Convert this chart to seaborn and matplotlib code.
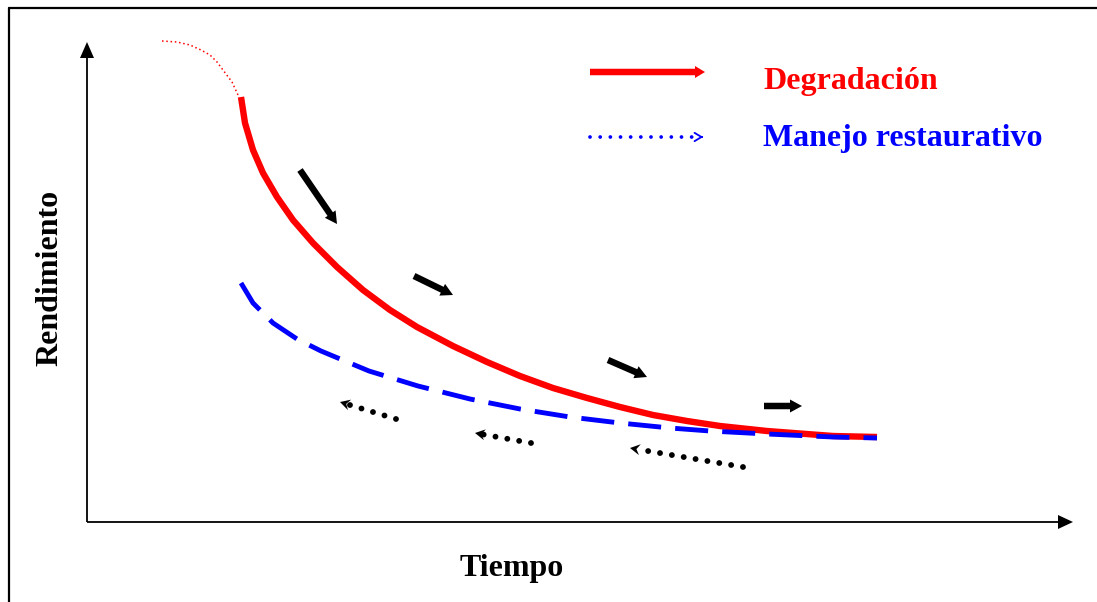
import numpy as np
import pandas as pd
import matplotlib.pyplot as plt
import seaborn as sns

# --- data (Tiempo / Rendimiento, arbitrary units) ---
degr_t = [1.54, 1.58, 1.66, 1.76, 1.90, 2.06, 2.26, 2.50, 2.76, 3.03, 3.30, 3.66,
          4.00, 4.33, 4.66, 5.00, 5.33, 5.66, 6.00, 6.33, 6.80, 7.46, 7.90]
degr_r = [4.25, 3.99, 3.72, 3.49, 3.25, 3.02, 2.79, 2.55, 2.32, 2.12, 1.95, 1.76,
          1.60, 1.46, 1.34, 1.24, 1.15, 1.07, 1.01, 0.96, 0.91, 0.86, 0.85]

# faint dotted lead-in before the degradation curve
lead_t = [0.75, 0.90, 1.03, 1.14, 1.23, 1.30, 1.36, 1.45, 1.51]
lead_r = [4.81, 4.80, 4.77, 4.72, 4.67, 4.60, 4.52, 4.40, 4.27]

rest_t = [1.54, 1.66, 1.86, 2.10, 2.34, 2.82, 3.31, 3.83, 4.33, 4.83, 5.33, 5.83,
          6.23, 6.80, 7.46, 7.90]
rest_r = [2.39, 2.19, 1.99, 1.83, 1.71, 1.51, 1.36, 1.23, 1.13, 1.05, 0.99, 0.94,
          0.91, 0.88, 0.85, 0.84]

# black arrows: (t_start, r_start, t_end, r_end)
down_arrows = [(2.13, 3.52, 2.50, 2.98),
               (3.27, 2.46, 3.66, 2.27),
               (5.21, 1.62, 5.60, 1.45),
               (6.77, 1.16, 7.15, 1.16)]
back_arrows = [(3.09, 1.03, 2.53, 1.20),
               (4.44, 0.79, 3.88, 0.89),
               (6.56, 0.55, 5.43, 0.74)]

legend_labels = ["Degradación", "Manejo restaurativo"]
legend_colors = ["#ff0000", "#0000ff"]
x_label = "Tiempo"
y_label = "Rendimiento"

sns.set_theme(style="white")
plt.rcParams["font.family"] = ["Liberation Serif", "DejaVu Serif"]

fig = plt.figure(figsize=(10.97, 6.02), dpi=100)
ax = fig.add_axes([0, 0, 1, 1])
ax.set_xlim(-0.87, 10.10)
ax.set_ylim(-0.80, 5.22)
ax.axis("off")

# outer frame (open at right/bottom, like the cropped original)
ax.plot([-0.78, -0.78], [-1.0, 5.14], color="black", lw=1.6)
ax.plot([-0.78, 11.0], [5.14, 5.14], color="black", lw=1.6)

# axes with arrow heads
ax.arrow(0, 0, 9.86, 0, width=0.018, head_width=0.14, head_length=0.15,
         length_includes_head=True, color="black", lw=0)
ax.arrow(0, 0, 0, 4.80, width=0.018, head_width=0.14, head_length=0.16,
         length_includes_head=True, color="black", lw=0)

# curves
sns.lineplot(x=lead_t, y=lead_r, sort=False, estimator=None, ax=ax,
             color="#ff0000", lw=1.1, linestyle=(0, (1, 1.8)))
sns.lineplot(x=degr_t, y=degr_r, sort=False, estimator=None, ax=ax,
             color="#ff0000", lw=4.6, solid_capstyle="butt",
             solid_joinstyle="round")
rest = sns.lineplot(x=rest_t, y=rest_r, sort=False, estimator=None, ax=ax,
                    color="#0000ff", lw=3.5)
rest.lines[-1].set_dashes((6.8, 2.9))
rest.lines[-1].set_dash_capstyle("butt")
rest.lines[-1].set_dash_joinstyle("round")

# solid black arrows (degradation direction)
for t0, r0, t1, r1 in down_arrows:
    ax.arrow(t0, r0, t1 - t0, r1 - r0, width=0.065, head_width=0.13,
             head_length=0.12, length_includes_head=True, color="black", lw=0)

# dotted black arrows (restoration direction)
for t0, r0, t1, r1 in back_arrows:
    d = np.hypot(t1 - t0, r1 - r0)
    ux, uy = (t1 - t0) / d, (r1 - r0) / d
    bt, br = t1 - ux * 0.07, r1 - uy * 0.07
    dots = pd.DataFrame({"t": [t0, bt], "r": [r0, br]})
    sns.lineplot(data=dots, x="t", y="r", sort=False, estimator=None, ax=ax,
                 color="black", lw=4.2, linestyle=(0, (0.01, 2.05)),
                 dash_capstyle="round")
    ax.arrow(t1 - ux * 0.1, r1 - uy * 0.1, ux * 0.1, uy * 0.1, width=0,
             head_width=0.11, head_length=0.10, overhang=0.35,
             length_includes_head=True, color="black", lw=0)

# legend drawn by hand
ax.arrow(5.03, 4.50, 1.15, 0, width=0.065, head_width=0.12, head_length=0.10,
         length_includes_head=True, color=legend_colors[0], lw=0)
sns.lineplot(x=[5.03, 6.12], y=[3.85, 3.85], sort=False, estimator=None, ax=ax,
             color=legend_colors[1], lw=2.7, linestyle=(0, (0.01, 2.7)),
             dash_capstyle="round")
ax.annotate("", xy=(6.19, 3.85), xytext=(6.12, 3.85),
            arrowprops=dict(arrowstyle="->,head_length=0.5,head_width=0.3",
                            color=legend_colors[1], lw=1.3, mutation_scale=10))

ax.text(6.76, 4.33, legend_labels[0], color=legend_colors[0], fontsize=23,
        fontweight="bold", va="baseline", ha="left")
ax.text(6.76, 3.76, legend_labels[1], color=legend_colors[1], fontsize=23,
        fontweight="bold", va="baseline", ha="left")

ax.text(4.25, -0.54, x_label, fontsize=23, fontweight="bold", color="black",
        ha="center", va="baseline")
ax.text(-0.37, 2.44, y_label, fontsize=23, fontweight="bold", color="black",
        ha="center", va="center", rotation=90)

fig.savefig("out.png", dpi=100)
